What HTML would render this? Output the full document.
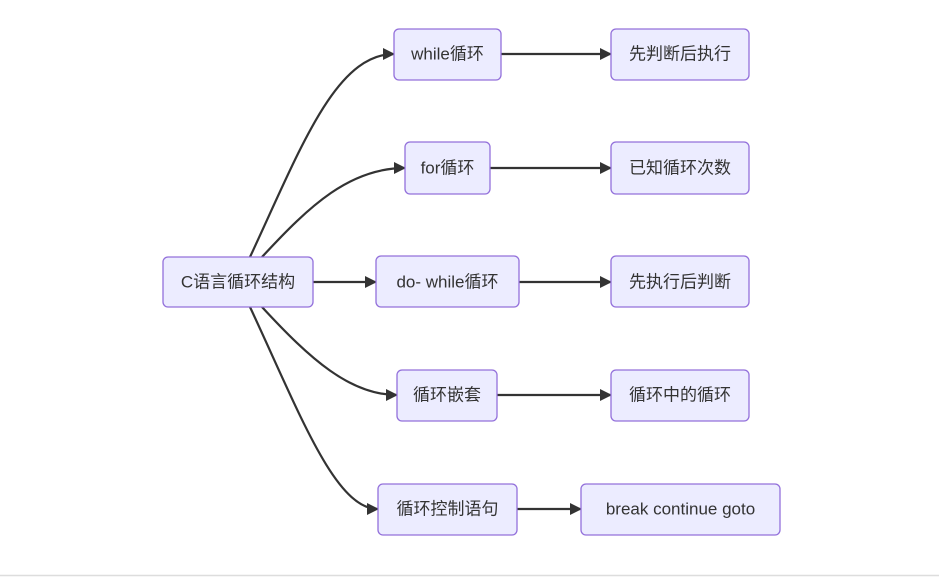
<!DOCTYPE html>
<html><head><meta charset="utf-8"><style>
html,body{margin:0;padding:0;background:#fff;width:939px;height:577px;overflow:hidden}
text{font-family:"Liberation Sans","Noto Sans CJK SC",sans-serif;font-size:17px;fill:#333;text-anchor:middle;dominant-baseline:central}
rect{fill:#ECECFF;stroke:#9370DB;stroke-width:1.3}
path{fill:none;stroke:#333;stroke-width:2.2}
</style></head><body>
<svg width="939" height="577" xmlns="http://www.w3.org/2000/svg">
<defs><marker id="a" viewBox="0 0 12 12" refX="11" refY="6" markerWidth="12" markerHeight="12" markerUnits="userSpaceOnUse" orient="auto"><path d="M0,0L12,6L0,12z" style="fill:#333;stroke:none"/></marker></defs>
<path d="M250,257 C300,150 335,54 394,54" marker-end="url(#a)"/>
<path d="M262,257 C310,205 350,168 405,168" marker-end="url(#a)"/>
<path d="M313,282 L376,282" marker-end="url(#a)"/>
<path d="M262,307 C310,359 350,395 397,395" marker-end="url(#a)"/>
<path d="M250,307 C300,414 335,509 378,509" marker-end="url(#a)"/>
<path d="M501,54 L611,54" marker-end="url(#a)"/>
<path d="M490,168 L611,168" marker-end="url(#a)"/>
<path d="M519,282 L611,282" marker-end="url(#a)"/>
<path d="M497,395 L611,395" marker-end="url(#a)"/>
<path d="M517,509 L581,509" marker-end="url(#a)"/>
<rect x="163" y="257" width="150" height="50" rx="5"/><text x="238" y="282">C语言循环结构</text>
<rect x="394" y="29" width="107" height="51" rx="5"/><text x="447.5" y="54">while循环</text>
<rect x="405" y="142" width="85" height="52" rx="5"/><text x="447.5" y="168">for循环</text>
<rect x="376" y="256" width="143" height="51" rx="5"/><text x="447.5" y="282">do- while循环</text>
<rect x="397" y="370" width="100" height="51" rx="5"/><text x="447" y="395">循环嵌套</text>
<rect x="378" y="484" width="139" height="51" rx="5"/><text x="447.5" y="509">循环控制语句</text>
<rect x="611" y="29" width="138" height="51" rx="5"/><text x="680" y="54">先判断后执行</text>
<rect x="611" y="142" width="138" height="52" rx="5"/><text x="680" y="168">已知循环次数</text>
<rect x="611" y="256" width="138" height="51" rx="5"/><text x="680" y="282">先执行后判断</text>
<rect x="611" y="370" width="138" height="51" rx="5"/><text x="680" y="395">循环中的循环</text>
<rect x="581" y="484" width="199" height="51" rx="5"/><text x="680.5" y="509">break continue goto</text>
<line x1="0" y1="575.5" x2="939" y2="575.5" stroke="#ddd" stroke-width="1.5"/>
</svg>
</body></html>
